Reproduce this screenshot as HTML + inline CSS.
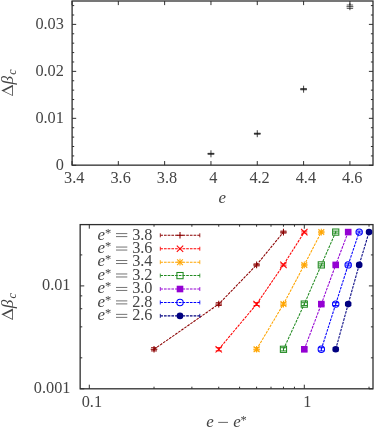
<!DOCTYPE html>
<html><head><meta charset="utf-8"><title>plot</title>
<style>
html,body{margin:0;padding:0;background:#fff;}
body{width:374px;height:428px;overflow:hidden;}
svg{display:block;will-change:transform;font-family:"Liberation Serif",serif;fill:#444444;}
svg line,svg path,svg rect,svg circle{shape-rendering:geometricPrecision;}
</style></head><body>
<svg width="374" height="428" viewBox="0 0 374 428">
<rect x="0" y="0" width="374" height="428" fill="#fff"/>
<rect x="72.1" y="1.0" width="300.9" height="164.15" fill="none" stroke="#2e2e2e" stroke-width="1.3"/>
<line x1="72.00" y1="165.15" x2="72.00" y2="161.05" stroke="#2e2e2e" stroke-width="1" />
<line x1="72.00" y1="1.00" x2="72.00" y2="5.10" stroke="#2e2e2e" stroke-width="1" />
<text x="74.30" y="183.00" text-anchor="middle" font-size="16.3" >3.4</text>
<line x1="118.32" y1="165.15" x2="118.32" y2="161.05" stroke="#2e2e2e" stroke-width="1" />
<line x1="118.32" y1="1.00" x2="118.32" y2="5.10" stroke="#2e2e2e" stroke-width="1" />
<text x="120.62" y="183.00" text-anchor="middle" font-size="16.3" >3.6</text>
<line x1="164.64" y1="165.15" x2="164.64" y2="161.05" stroke="#2e2e2e" stroke-width="1" />
<line x1="164.64" y1="1.00" x2="164.64" y2="5.10" stroke="#2e2e2e" stroke-width="1" />
<text x="166.94" y="183.00" text-anchor="middle" font-size="16.3" >3.8</text>
<line x1="210.96" y1="165.15" x2="210.96" y2="161.05" stroke="#2e2e2e" stroke-width="1" />
<line x1="210.96" y1="1.00" x2="210.96" y2="5.10" stroke="#2e2e2e" stroke-width="1" />
<text x="213.26" y="183.00" text-anchor="middle" font-size="16.3" >4</text>
<line x1="257.28" y1="165.15" x2="257.28" y2="161.05" stroke="#2e2e2e" stroke-width="1" />
<line x1="257.28" y1="1.00" x2="257.28" y2="5.10" stroke="#2e2e2e" stroke-width="1" />
<text x="259.58" y="183.00" text-anchor="middle" font-size="16.3" >4.2</text>
<line x1="303.60" y1="165.15" x2="303.60" y2="161.05" stroke="#2e2e2e" stroke-width="1" />
<line x1="303.60" y1="1.00" x2="303.60" y2="5.10" stroke="#2e2e2e" stroke-width="1" />
<text x="305.90" y="183.00" text-anchor="middle" font-size="16.3" >4.4</text>
<line x1="349.92" y1="165.15" x2="349.92" y2="161.05" stroke="#2e2e2e" stroke-width="1" />
<line x1="349.92" y1="1.00" x2="349.92" y2="5.10" stroke="#2e2e2e" stroke-width="1" />
<text x="352.22" y="183.00" text-anchor="middle" font-size="16.3" >4.6</text>
<line x1="72.10" y1="165.30" x2="76.20" y2="165.30" stroke="#2e2e2e" stroke-width="1" />
<line x1="373.00" y1="165.30" x2="368.90" y2="165.30" stroke="#2e2e2e" stroke-width="1" />
<text x="63.90" y="169.70" text-anchor="end" font-size="16.3" >0</text>
<line x1="72.10" y1="118.33" x2="76.20" y2="118.33" stroke="#2e2e2e" stroke-width="1" />
<line x1="373.00" y1="118.33" x2="368.90" y2="118.33" stroke="#2e2e2e" stroke-width="1" />
<text x="63.90" y="122.73" text-anchor="end" font-size="16.3" >0.01</text>
<line x1="72.10" y1="71.36" x2="76.20" y2="71.36" stroke="#2e2e2e" stroke-width="1" />
<line x1="373.00" y1="71.36" x2="368.90" y2="71.36" stroke="#2e2e2e" stroke-width="1" />
<text x="63.90" y="75.76" text-anchor="end" font-size="16.3" >0.02</text>
<line x1="72.10" y1="24.39" x2="76.20" y2="24.39" stroke="#2e2e2e" stroke-width="1" />
<line x1="373.00" y1="24.39" x2="368.90" y2="24.39" stroke="#2e2e2e" stroke-width="1" />
<text x="63.90" y="28.79" text-anchor="end" font-size="16.3" >0.03</text>
<line x1="72.10" y1="155.91" x2="74.20" y2="155.91" stroke="#2e2e2e" stroke-width="1" />
<line x1="373.00" y1="155.91" x2="370.90" y2="155.91" stroke="#2e2e2e" stroke-width="1" />
<line x1="72.10" y1="146.51" x2="74.20" y2="146.51" stroke="#2e2e2e" stroke-width="1" />
<line x1="373.00" y1="146.51" x2="370.90" y2="146.51" stroke="#2e2e2e" stroke-width="1" />
<line x1="72.10" y1="137.12" x2="74.20" y2="137.12" stroke="#2e2e2e" stroke-width="1" />
<line x1="373.00" y1="137.12" x2="370.90" y2="137.12" stroke="#2e2e2e" stroke-width="1" />
<line x1="72.10" y1="127.72" x2="74.20" y2="127.72" stroke="#2e2e2e" stroke-width="1" />
<line x1="373.00" y1="127.72" x2="370.90" y2="127.72" stroke="#2e2e2e" stroke-width="1" />
<line x1="72.10" y1="108.94" x2="74.20" y2="108.94" stroke="#2e2e2e" stroke-width="1" />
<line x1="373.00" y1="108.94" x2="370.90" y2="108.94" stroke="#2e2e2e" stroke-width="1" />
<line x1="72.10" y1="99.54" x2="74.20" y2="99.54" stroke="#2e2e2e" stroke-width="1" />
<line x1="373.00" y1="99.54" x2="370.90" y2="99.54" stroke="#2e2e2e" stroke-width="1" />
<line x1="72.10" y1="90.15" x2="74.20" y2="90.15" stroke="#2e2e2e" stroke-width="1" />
<line x1="373.00" y1="90.15" x2="370.90" y2="90.15" stroke="#2e2e2e" stroke-width="1" />
<line x1="72.10" y1="80.75" x2="74.20" y2="80.75" stroke="#2e2e2e" stroke-width="1" />
<line x1="373.00" y1="80.75" x2="370.90" y2="80.75" stroke="#2e2e2e" stroke-width="1" />
<line x1="72.10" y1="61.97" x2="74.20" y2="61.97" stroke="#2e2e2e" stroke-width="1" />
<line x1="373.00" y1="61.97" x2="370.90" y2="61.97" stroke="#2e2e2e" stroke-width="1" />
<line x1="72.10" y1="52.57" x2="74.20" y2="52.57" stroke="#2e2e2e" stroke-width="1" />
<line x1="373.00" y1="52.57" x2="370.90" y2="52.57" stroke="#2e2e2e" stroke-width="1" />
<line x1="72.10" y1="43.18" x2="74.20" y2="43.18" stroke="#2e2e2e" stroke-width="1" />
<line x1="373.00" y1="43.18" x2="370.90" y2="43.18" stroke="#2e2e2e" stroke-width="1" />
<line x1="72.10" y1="33.78" x2="74.20" y2="33.78" stroke="#2e2e2e" stroke-width="1" />
<line x1="373.00" y1="33.78" x2="370.90" y2="33.78" stroke="#2e2e2e" stroke-width="1" />
<line x1="72.10" y1="15.00" x2="74.20" y2="15.00" stroke="#2e2e2e" stroke-width="1" />
<line x1="373.00" y1="15.00" x2="370.90" y2="15.00" stroke="#2e2e2e" stroke-width="1" />
<line x1="72.10" y1="5.60" x2="74.20" y2="5.60" stroke="#2e2e2e" stroke-width="1" />
<line x1="373.00" y1="5.60" x2="370.90" y2="5.60" stroke="#2e2e2e" stroke-width="1" />
<line x1="207.56" y1="153.80" x2="214.36" y2="153.80" stroke="#111" stroke-width="0.8" />
<line x1="210.96" y1="150.30" x2="210.96" y2="157.30" stroke="#111" stroke-width="0.8" />
<line x1="207.76" y1="153.35" x2="214.16" y2="153.35" stroke="#111" stroke-width="0.7" />
<line x1="207.76" y1="154.25" x2="214.16" y2="154.25" stroke="#111" stroke-width="0.7" />
<line x1="253.88" y1="133.70" x2="260.68" y2="133.70" stroke="#111" stroke-width="0.8" />
<line x1="257.28" y1="130.20" x2="257.28" y2="137.20" stroke="#111" stroke-width="0.8" />
<line x1="254.08" y1="133.20" x2="260.48" y2="133.20" stroke="#111" stroke-width="0.7" />
<line x1="254.08" y1="134.20" x2="260.48" y2="134.20" stroke="#111" stroke-width="0.7" />
<line x1="300.20" y1="89.20" x2="307.00" y2="89.20" stroke="#111" stroke-width="0.8" />
<line x1="303.60" y1="85.70" x2="303.60" y2="92.70" stroke="#111" stroke-width="0.8" />
<line x1="300.40" y1="88.60" x2="306.80" y2="88.60" stroke="#111" stroke-width="0.7" />
<line x1="300.40" y1="89.80" x2="306.80" y2="89.80" stroke="#111" stroke-width="0.7" />
<line x1="346.52" y1="6.70" x2="353.32" y2="6.70" stroke="#111" stroke-width="0.8" />
<line x1="349.92" y1="3.20" x2="349.92" y2="10.20" stroke="#111" stroke-width="0.8" />
<line x1="346.72" y1="5.00" x2="353.12" y2="5.00" stroke="#111" stroke-width="0.7" />
<line x1="346.72" y1="8.40" x2="353.12" y2="8.40" stroke="#111" stroke-width="0.7" />
<text x="222.3" y="202.6" text-anchor="middle" font-size="16.900000000000002" font-style="italic">e</text>
<g transform="translate(12.9,96.1) rotate(-90)"><path d="M0,0 L5.65,-11.6 L11.3,0 Z M1.1,-0.8 L5.05,-8.9 L9.0,-0.8 Z" fill-rule="evenodd"/><text x="11.6" y="0" font-size="17.2" font-style="italic">β</text><text x="21.4" y="2.7" font-size="12" font-style="italic">c</text></g>
<rect x="80.15" y="224.6" width="292.85" height="164.20000000000002" fill="none" stroke="#2e2e2e" stroke-width="1.3"/>
<line x1="89.30" y1="388.80" x2="89.30" y2="384.70" stroke="#2e2e2e" stroke-width="1" />
<line x1="89.30" y1="224.60" x2="89.30" y2="228.70" stroke="#2e2e2e" stroke-width="1" />
<text x="91.90" y="406.70" text-anchor="middle" font-size="16.3" >0.1</text>
<line x1="304.30" y1="388.80" x2="304.30" y2="384.70" stroke="#2e2e2e" stroke-width="1" />
<line x1="304.30" y1="224.60" x2="304.30" y2="228.70" stroke="#2e2e2e" stroke-width="1" />
<text x="307.30" y="406.70" text-anchor="middle" font-size="16.3" >1</text>
<line x1="154.02" y1="388.80" x2="154.02" y2="386.70" stroke="#2e2e2e" stroke-width="1" />
<line x1="154.02" y1="224.60" x2="154.02" y2="226.70" stroke="#2e2e2e" stroke-width="1" />
<line x1="191.88" y1="388.80" x2="191.88" y2="386.70" stroke="#2e2e2e" stroke-width="1" />
<line x1="191.88" y1="224.60" x2="191.88" y2="226.70" stroke="#2e2e2e" stroke-width="1" />
<line x1="218.74" y1="388.80" x2="218.74" y2="386.70" stroke="#2e2e2e" stroke-width="1" />
<line x1="218.74" y1="224.60" x2="218.74" y2="226.70" stroke="#2e2e2e" stroke-width="1" />
<line x1="239.58" y1="388.80" x2="239.58" y2="386.70" stroke="#2e2e2e" stroke-width="1" />
<line x1="239.58" y1="224.60" x2="239.58" y2="226.70" stroke="#2e2e2e" stroke-width="1" />
<line x1="256.60" y1="388.80" x2="256.60" y2="386.70" stroke="#2e2e2e" stroke-width="1" />
<line x1="256.60" y1="224.60" x2="256.60" y2="226.70" stroke="#2e2e2e" stroke-width="1" />
<line x1="271.00" y1="388.80" x2="271.00" y2="386.70" stroke="#2e2e2e" stroke-width="1" />
<line x1="271.00" y1="224.60" x2="271.00" y2="226.70" stroke="#2e2e2e" stroke-width="1" />
<line x1="283.46" y1="388.80" x2="283.46" y2="386.70" stroke="#2e2e2e" stroke-width="1" />
<line x1="283.46" y1="224.60" x2="283.46" y2="226.70" stroke="#2e2e2e" stroke-width="1" />
<line x1="294.46" y1="388.80" x2="294.46" y2="386.70" stroke="#2e2e2e" stroke-width="1" />
<line x1="294.46" y1="224.60" x2="294.46" y2="226.70" stroke="#2e2e2e" stroke-width="1" />
<line x1="369.02" y1="388.80" x2="369.02" y2="386.70" stroke="#2e2e2e" stroke-width="1" />
<line x1="369.02" y1="224.60" x2="369.02" y2="226.70" stroke="#2e2e2e" stroke-width="1" />
<line x1="80.15" y1="388.80" x2="84.25" y2="388.80" stroke="#2e2e2e" stroke-width="1" />
<line x1="373.00" y1="388.80" x2="368.90" y2="388.80" stroke="#2e2e2e" stroke-width="1" />
<text x="70.50" y="393.10" text-anchor="end" font-size="16.3" >0.001</text>
<line x1="80.15" y1="285.90" x2="84.25" y2="285.90" stroke="#2e2e2e" stroke-width="1" />
<line x1="373.00" y1="285.90" x2="368.90" y2="285.90" stroke="#2e2e2e" stroke-width="1" />
<text x="70.50" y="290.20" text-anchor="end" font-size="16.3" >0.01</text>
<line x1="80.15" y1="357.82" x2="82.25" y2="357.82" stroke="#2e2e2e" stroke-width="1" />
<line x1="373.00" y1="357.82" x2="370.90" y2="357.82" stroke="#2e2e2e" stroke-width="1" />
<line x1="80.15" y1="326.85" x2="82.25" y2="326.85" stroke="#2e2e2e" stroke-width="1" />
<line x1="373.00" y1="326.85" x2="370.90" y2="326.85" stroke="#2e2e2e" stroke-width="1" />
<line x1="80.15" y1="308.73" x2="82.25" y2="308.73" stroke="#2e2e2e" stroke-width="1" />
<line x1="373.00" y1="308.73" x2="370.90" y2="308.73" stroke="#2e2e2e" stroke-width="1" />
<line x1="80.15" y1="295.87" x2="82.25" y2="295.87" stroke="#2e2e2e" stroke-width="1" />
<line x1="373.00" y1="295.87" x2="370.90" y2="295.87" stroke="#2e2e2e" stroke-width="1" />
<line x1="80.15" y1="254.92" x2="82.25" y2="254.92" stroke="#2e2e2e" stroke-width="1" />
<line x1="373.00" y1="254.92" x2="370.90" y2="254.92" stroke="#2e2e2e" stroke-width="1" />
<text x="206.3" y="426.5" font-size="16.900000000000002" font-style="italic">e</text>
<line x1="218.20" y1="422.40" x2="228.00" y2="422.40" stroke="#444444" stroke-width="0.8" />
<text x="233.3" y="426.5" font-size="16.900000000000002" font-style="italic">e</text>
<text x="243.7" y="424.3" font-size="12.5" text-anchor="middle">*</text>
<g transform="translate(12.9,319.9) rotate(-90)"><path d="M0,0 L5.65,-11.6 L11.3,0 Z M1.1,-0.8 L5.05,-8.9 L9.0,-0.8 Z" fill-rule="evenodd"/><text x="11.6" y="0" font-size="17.2" font-style="italic">β</text><text x="21.4" y="2.7" font-size="12" font-style="italic">c</text></g>
<path d="M154.02,349.30 L218.74,304.10 L256.60,264.90 L283.46,232.10" fill="none" stroke="#8b0000" stroke-width="1.05" stroke-dasharray="2.65 1.05"/>
<line x1="154.02" y1="347.70" x2="154.02" y2="350.90" stroke="#8b0000" stroke-width="1.05" />
<line x1="151.02" y1="347.70" x2="157.02" y2="347.70" stroke="#8b0000" stroke-width="0.9450000000000001" />
<line x1="151.02" y1="350.90" x2="157.02" y2="350.90" stroke="#8b0000" stroke-width="0.9450000000000001" />
<line x1="150.72" y1="349.30" x2="157.32" y2="349.30" stroke="#8b0000" stroke-width="1.05" />
<line x1="154.02" y1="346.00" x2="154.02" y2="352.60" stroke="#8b0000" stroke-width="1.05" />
<line x1="218.74" y1="302.70" x2="218.74" y2="305.50" stroke="#8b0000" stroke-width="1.05" />
<line x1="215.74" y1="302.70" x2="221.74" y2="302.70" stroke="#8b0000" stroke-width="0.9450000000000001" />
<line x1="215.74" y1="305.50" x2="221.74" y2="305.50" stroke="#8b0000" stroke-width="0.9450000000000001" />
<line x1="215.44" y1="304.10" x2="222.04" y2="304.10" stroke="#8b0000" stroke-width="1.05" />
<line x1="218.74" y1="300.80" x2="218.74" y2="307.40" stroke="#8b0000" stroke-width="1.05" />
<line x1="256.60" y1="263.90" x2="256.60" y2="265.90" stroke="#8b0000" stroke-width="1.05" />
<line x1="253.60" y1="263.90" x2="259.60" y2="263.90" stroke="#8b0000" stroke-width="0.9450000000000001" />
<line x1="253.60" y1="265.90" x2="259.60" y2="265.90" stroke="#8b0000" stroke-width="0.9450000000000001" />
<line x1="253.30" y1="264.90" x2="259.90" y2="264.90" stroke="#8b0000" stroke-width="1.05" />
<line x1="256.60" y1="261.60" x2="256.60" y2="268.20" stroke="#8b0000" stroke-width="1.05" />
<line x1="283.46" y1="231.10" x2="283.46" y2="233.10" stroke="#8b0000" stroke-width="1.05" />
<line x1="280.46" y1="231.10" x2="286.46" y2="231.10" stroke="#8b0000" stroke-width="0.9450000000000001" />
<line x1="280.46" y1="233.10" x2="286.46" y2="233.10" stroke="#8b0000" stroke-width="0.9450000000000001" />
<line x1="280.16" y1="232.10" x2="286.76" y2="232.10" stroke="#8b0000" stroke-width="1.05" />
<line x1="283.46" y1="228.80" x2="283.46" y2="235.40" stroke="#8b0000" stroke-width="1.05" />
<line x1="160.30" y1="235.30" x2="199.80" y2="235.30" stroke="#8b0000" stroke-width="1.05" stroke-dasharray="2.65 1.05"/>
<line x1="160.30" y1="233.30" x2="160.30" y2="237.30" stroke="#8b0000" stroke-width="0.8400000000000001" />
<line x1="199.80" y1="233.30" x2="199.80" y2="237.30" stroke="#8b0000" stroke-width="0.8400000000000001" />
<line x1="176.70" y1="235.30" x2="183.30" y2="235.30" stroke="#8b0000" stroke-width="1.05" />
<line x1="180.00" y1="232.00" x2="180.00" y2="238.60" stroke="#8b0000" stroke-width="1.05" />
<text x="97.6" y="239.50" font-size="16.900000000000002" font-style="italic">e</text>
<text x="108.2" y="236.50" font-size="12.5" text-anchor="middle">*</text>
<line x1="116.00" y1="233.60" x2="127.30" y2="233.60" stroke="#444444" stroke-width="0.75" />
<line x1="116.00" y1="236.60" x2="127.30" y2="236.60" stroke="#444444" stroke-width="0.75" />
<text x="152.5" y="239.50" font-size="16.3" text-anchor="end">3.8</text>
<path d="M218.74,349.30 L256.60,304.10 L283.46,264.90 L304.30,232.10" fill="none" stroke="#ff0000" stroke-width="1.05" stroke-dasharray="2.65 1.05"/>
<line x1="218.74" y1="347.70" x2="218.74" y2="350.90" stroke="#ff0000" stroke-width="1.05" />
<line x1="215.74" y1="347.70" x2="221.74" y2="347.70" stroke="#ff0000" stroke-width="0.9450000000000001" />
<line x1="215.74" y1="350.90" x2="221.74" y2="350.90" stroke="#ff0000" stroke-width="0.9450000000000001" />
<line x1="215.54" y1="346.10" x2="221.94" y2="352.50" stroke="#ff0000" stroke-width="1.05" />
<line x1="215.54" y1="352.50" x2="221.94" y2="346.10" stroke="#ff0000" stroke-width="1.05" />
<line x1="256.60" y1="302.70" x2="256.60" y2="305.50" stroke="#ff0000" stroke-width="1.05" />
<line x1="253.60" y1="302.70" x2="259.60" y2="302.70" stroke="#ff0000" stroke-width="0.9450000000000001" />
<line x1="253.60" y1="305.50" x2="259.60" y2="305.50" stroke="#ff0000" stroke-width="0.9450000000000001" />
<line x1="253.40" y1="300.90" x2="259.80" y2="307.30" stroke="#ff0000" stroke-width="1.05" />
<line x1="253.40" y1="307.30" x2="259.80" y2="300.90" stroke="#ff0000" stroke-width="1.05" />
<line x1="283.46" y1="263.90" x2="283.46" y2="265.90" stroke="#ff0000" stroke-width="1.05" />
<line x1="280.46" y1="263.90" x2="286.46" y2="263.90" stroke="#ff0000" stroke-width="0.9450000000000001" />
<line x1="280.46" y1="265.90" x2="286.46" y2="265.90" stroke="#ff0000" stroke-width="0.9450000000000001" />
<line x1="280.26" y1="261.70" x2="286.66" y2="268.10" stroke="#ff0000" stroke-width="1.05" />
<line x1="280.26" y1="268.10" x2="286.66" y2="261.70" stroke="#ff0000" stroke-width="1.05" />
<line x1="304.30" y1="231.10" x2="304.30" y2="233.10" stroke="#ff0000" stroke-width="1.05" />
<line x1="301.30" y1="231.10" x2="307.30" y2="231.10" stroke="#ff0000" stroke-width="0.9450000000000001" />
<line x1="301.30" y1="233.10" x2="307.30" y2="233.10" stroke="#ff0000" stroke-width="0.9450000000000001" />
<line x1="301.10" y1="228.90" x2="307.50" y2="235.30" stroke="#ff0000" stroke-width="1.05" />
<line x1="301.10" y1="235.30" x2="307.50" y2="228.90" stroke="#ff0000" stroke-width="1.05" />
<line x1="160.30" y1="248.73" x2="199.80" y2="248.73" stroke="#ff0000" stroke-width="1.05" stroke-dasharray="2.65 1.05"/>
<line x1="160.30" y1="246.73" x2="160.30" y2="250.73" stroke="#ff0000" stroke-width="0.8400000000000001" />
<line x1="199.80" y1="246.73" x2="199.80" y2="250.73" stroke="#ff0000" stroke-width="0.8400000000000001" />
<line x1="176.80" y1="245.53" x2="183.20" y2="251.93" stroke="#ff0000" stroke-width="1.05" />
<line x1="176.80" y1="251.93" x2="183.20" y2="245.53" stroke="#ff0000" stroke-width="1.05" />
<text x="97.6" y="252.96" font-size="16.900000000000002" font-style="italic">e</text>
<text x="108.2" y="249.96" font-size="12.5" text-anchor="middle">*</text>
<line x1="116.00" y1="247.06" x2="127.30" y2="247.06" stroke="#444444" stroke-width="0.75" />
<line x1="116.00" y1="250.06" x2="127.30" y2="250.06" stroke="#444444" stroke-width="0.75" />
<text x="152.5" y="252.96" font-size="16.3" text-anchor="end">3.6</text>
<path d="M256.60,349.30 L283.46,304.10 L304.30,264.90 L321.32,232.10" fill="none" stroke="#ffa500" stroke-width="1.05" stroke-dasharray="2.65 1.05"/>
<line x1="256.60" y1="347.70" x2="256.60" y2="350.90" stroke="#ffa500" stroke-width="1.05" />
<line x1="253.60" y1="347.70" x2="259.60" y2="347.70" stroke="#ffa500" stroke-width="0.9450000000000001" />
<line x1="253.60" y1="350.90" x2="259.60" y2="350.90" stroke="#ffa500" stroke-width="0.9450000000000001" />
<line x1="253.30" y1="349.30" x2="259.90" y2="349.30" stroke="#ffa500" stroke-width="1.05" />
<line x1="256.60" y1="346.00" x2="256.60" y2="352.60" stroke="#ffa500" stroke-width="1.05" />
<line x1="253.70" y1="346.40" x2="259.50" y2="352.20" stroke="#ffa500" stroke-width="1.05" />
<line x1="253.70" y1="352.20" x2="259.50" y2="346.40" stroke="#ffa500" stroke-width="1.05" />
<line x1="283.46" y1="302.70" x2="283.46" y2="305.50" stroke="#ffa500" stroke-width="1.05" />
<line x1="280.46" y1="302.70" x2="286.46" y2="302.70" stroke="#ffa500" stroke-width="0.9450000000000001" />
<line x1="280.46" y1="305.50" x2="286.46" y2="305.50" stroke="#ffa500" stroke-width="0.9450000000000001" />
<line x1="280.16" y1="304.10" x2="286.76" y2="304.10" stroke="#ffa500" stroke-width="1.05" />
<line x1="283.46" y1="300.80" x2="283.46" y2="307.40" stroke="#ffa500" stroke-width="1.05" />
<line x1="280.56" y1="301.20" x2="286.36" y2="307.00" stroke="#ffa500" stroke-width="1.05" />
<line x1="280.56" y1="307.00" x2="286.36" y2="301.20" stroke="#ffa500" stroke-width="1.05" />
<line x1="304.30" y1="263.90" x2="304.30" y2="265.90" stroke="#ffa500" stroke-width="1.05" />
<line x1="301.30" y1="263.90" x2="307.30" y2="263.90" stroke="#ffa500" stroke-width="0.9450000000000001" />
<line x1="301.30" y1="265.90" x2="307.30" y2="265.90" stroke="#ffa500" stroke-width="0.9450000000000001" />
<line x1="301.00" y1="264.90" x2="307.60" y2="264.90" stroke="#ffa500" stroke-width="1.05" />
<line x1="304.30" y1="261.60" x2="304.30" y2="268.20" stroke="#ffa500" stroke-width="1.05" />
<line x1="301.40" y1="262.00" x2="307.20" y2="267.80" stroke="#ffa500" stroke-width="1.05" />
<line x1="301.40" y1="267.80" x2="307.20" y2="262.00" stroke="#ffa500" stroke-width="1.05" />
<line x1="321.32" y1="231.10" x2="321.32" y2="233.10" stroke="#ffa500" stroke-width="1.05" />
<line x1="318.32" y1="231.10" x2="324.32" y2="231.10" stroke="#ffa500" stroke-width="0.9450000000000001" />
<line x1="318.32" y1="233.10" x2="324.32" y2="233.10" stroke="#ffa500" stroke-width="0.9450000000000001" />
<line x1="318.02" y1="232.10" x2="324.62" y2="232.10" stroke="#ffa500" stroke-width="1.05" />
<line x1="321.32" y1="228.80" x2="321.32" y2="235.40" stroke="#ffa500" stroke-width="1.05" />
<line x1="318.42" y1="229.20" x2="324.22" y2="235.00" stroke="#ffa500" stroke-width="1.05" />
<line x1="318.42" y1="235.00" x2="324.22" y2="229.20" stroke="#ffa500" stroke-width="1.05" />
<line x1="160.30" y1="262.16" x2="199.80" y2="262.16" stroke="#ffa500" stroke-width="1.05" stroke-dasharray="2.65 1.05"/>
<line x1="160.30" y1="260.16" x2="160.30" y2="264.16" stroke="#ffa500" stroke-width="0.8400000000000001" />
<line x1="199.80" y1="260.16" x2="199.80" y2="264.16" stroke="#ffa500" stroke-width="0.8400000000000001" />
<line x1="176.70" y1="262.16" x2="183.30" y2="262.16" stroke="#ffa500" stroke-width="1.05" />
<line x1="180.00" y1="258.86" x2="180.00" y2="265.46" stroke="#ffa500" stroke-width="1.05" />
<line x1="177.10" y1="259.26" x2="182.90" y2="265.06" stroke="#ffa500" stroke-width="1.05" />
<line x1="177.10" y1="265.06" x2="182.90" y2="259.26" stroke="#ffa500" stroke-width="1.05" />
<text x="97.6" y="266.42" font-size="16.900000000000002" font-style="italic">e</text>
<text x="108.2" y="263.42" font-size="12.5" text-anchor="middle">*</text>
<line x1="116.00" y1="260.52" x2="127.30" y2="260.52" stroke="#444444" stroke-width="0.75" />
<line x1="116.00" y1="263.52" x2="127.30" y2="263.52" stroke="#444444" stroke-width="0.75" />
<text x="152.5" y="266.42" font-size="16.3" text-anchor="end">3.4</text>
<path d="M283.46,349.30 L304.30,304.10 L321.32,264.90 L335.72,232.10" fill="none" stroke="#228b22" stroke-width="1.05" stroke-dasharray="2.65 1.05"/>
<line x1="283.46" y1="347.70" x2="283.46" y2="350.90" stroke="#228b22" stroke-width="1.05" />
<line x1="280.46" y1="347.70" x2="286.46" y2="347.70" stroke="#228b22" stroke-width="0.9450000000000001" />
<line x1="280.46" y1="350.90" x2="286.46" y2="350.90" stroke="#228b22" stroke-width="0.9450000000000001" />
<rect x="280.36" y="346.20" width="6.2" height="6.2" fill="none" stroke="#228b22" stroke-width="1.05"/>
<line x1="304.30" y1="302.70" x2="304.30" y2="305.50" stroke="#228b22" stroke-width="1.05" />
<line x1="301.30" y1="302.70" x2="307.30" y2="302.70" stroke="#228b22" stroke-width="0.9450000000000001" />
<line x1="301.30" y1="305.50" x2="307.30" y2="305.50" stroke="#228b22" stroke-width="0.9450000000000001" />
<rect x="301.20" y="301.00" width="6.2" height="6.2" fill="none" stroke="#228b22" stroke-width="1.05"/>
<line x1="321.32" y1="263.90" x2="321.32" y2="265.90" stroke="#228b22" stroke-width="1.05" />
<line x1="318.32" y1="263.90" x2="324.32" y2="263.90" stroke="#228b22" stroke-width="0.9450000000000001" />
<line x1="318.32" y1="265.90" x2="324.32" y2="265.90" stroke="#228b22" stroke-width="0.9450000000000001" />
<rect x="318.22" y="261.80" width="6.2" height="6.2" fill="none" stroke="#228b22" stroke-width="1.05"/>
<line x1="335.72" y1="231.10" x2="335.72" y2="233.10" stroke="#228b22" stroke-width="1.05" />
<line x1="332.72" y1="231.10" x2="338.72" y2="231.10" stroke="#228b22" stroke-width="0.9450000000000001" />
<line x1="332.72" y1="233.10" x2="338.72" y2="233.10" stroke="#228b22" stroke-width="0.9450000000000001" />
<rect x="332.62" y="229.00" width="6.2" height="6.2" fill="none" stroke="#228b22" stroke-width="1.05"/>
<line x1="160.30" y1="275.59" x2="199.80" y2="275.59" stroke="#228b22" stroke-width="1.05" stroke-dasharray="2.65 1.05"/>
<line x1="160.30" y1="273.59" x2="160.30" y2="277.59" stroke="#228b22" stroke-width="0.8400000000000001" />
<line x1="199.80" y1="273.59" x2="199.80" y2="277.59" stroke="#228b22" stroke-width="0.8400000000000001" />
<rect x="176.90" y="272.49" width="6.2" height="6.2" fill="none" stroke="#228b22" stroke-width="1.05"/>
<text x="97.6" y="279.88" font-size="16.900000000000002" font-style="italic">e</text>
<text x="108.2" y="276.88" font-size="12.5" text-anchor="middle">*</text>
<line x1="116.00" y1="273.98" x2="127.30" y2="273.98" stroke="#444444" stroke-width="0.75" />
<line x1="116.00" y1="276.98" x2="127.30" y2="276.98" stroke="#444444" stroke-width="0.75" />
<text x="152.5" y="279.88" font-size="16.3" text-anchor="end">3.2</text>
<path d="M304.30,349.30 L321.32,304.10 L335.72,264.90 L348.19,232.10" fill="none" stroke="#9400d3" stroke-width="1.05" stroke-dasharray="2.65 1.05"/>
<line x1="304.30" y1="347.70" x2="304.30" y2="350.90" stroke="#9400d3" stroke-width="1.05" />
<line x1="301.30" y1="347.70" x2="307.30" y2="347.70" stroke="#9400d3" stroke-width="0.9450000000000001" />
<line x1="301.30" y1="350.90" x2="307.30" y2="350.90" stroke="#9400d3" stroke-width="0.9450000000000001" />
<rect x="301.00" y="346.00" width="6.6" height="6.6" fill="#9400d3"/>
<line x1="321.32" y1="302.70" x2="321.32" y2="305.50" stroke="#9400d3" stroke-width="1.05" />
<line x1="318.32" y1="302.70" x2="324.32" y2="302.70" stroke="#9400d3" stroke-width="0.9450000000000001" />
<line x1="318.32" y1="305.50" x2="324.32" y2="305.50" stroke="#9400d3" stroke-width="0.9450000000000001" />
<rect x="318.02" y="300.80" width="6.6" height="6.6" fill="#9400d3"/>
<line x1="335.72" y1="263.90" x2="335.72" y2="265.90" stroke="#9400d3" stroke-width="1.05" />
<line x1="332.72" y1="263.90" x2="338.72" y2="263.90" stroke="#9400d3" stroke-width="0.9450000000000001" />
<line x1="332.72" y1="265.90" x2="338.72" y2="265.90" stroke="#9400d3" stroke-width="0.9450000000000001" />
<rect x="332.42" y="261.60" width="6.6" height="6.6" fill="#9400d3"/>
<line x1="348.19" y1="231.10" x2="348.19" y2="233.10" stroke="#9400d3" stroke-width="1.05" />
<line x1="345.19" y1="231.10" x2="351.19" y2="231.10" stroke="#9400d3" stroke-width="0.9450000000000001" />
<line x1="345.19" y1="233.10" x2="351.19" y2="233.10" stroke="#9400d3" stroke-width="0.9450000000000001" />
<rect x="344.89" y="228.80" width="6.6" height="6.6" fill="#9400d3"/>
<line x1="160.30" y1="289.02" x2="199.80" y2="289.02" stroke="#9400d3" stroke-width="1.05" stroke-dasharray="2.65 1.05"/>
<line x1="160.30" y1="287.02" x2="160.30" y2="291.02" stroke="#9400d3" stroke-width="0.8400000000000001" />
<line x1="199.80" y1="287.02" x2="199.80" y2="291.02" stroke="#9400d3" stroke-width="0.8400000000000001" />
<rect x="176.70" y="285.72" width="6.6" height="6.6" fill="#9400d3"/>
<text x="97.6" y="293.34" font-size="16.900000000000002" font-style="italic">e</text>
<text x="108.2" y="290.34" font-size="12.5" text-anchor="middle">*</text>
<line x1="116.00" y1="287.44" x2="127.30" y2="287.44" stroke="#444444" stroke-width="0.75" />
<line x1="116.00" y1="290.44" x2="127.30" y2="290.44" stroke="#444444" stroke-width="0.75" />
<text x="152.5" y="293.34" font-size="16.3" text-anchor="end">3.0</text>
<path d="M321.32,349.30 L335.72,304.10 L348.19,264.90 L359.18,232.10" fill="none" stroke="#0000ff" stroke-width="1.05" stroke-dasharray="2.65 1.05"/>
<line x1="321.32" y1="347.70" x2="321.32" y2="350.90" stroke="#0000ff" stroke-width="1.05" />
<line x1="318.32" y1="347.70" x2="324.32" y2="347.70" stroke="#0000ff" stroke-width="0.9450000000000001" />
<line x1="318.32" y1="350.90" x2="324.32" y2="350.90" stroke="#0000ff" stroke-width="0.9450000000000001" />
<circle cx="321.32" cy="349.30" r="3.2" fill="none" stroke="#0000ff" stroke-width="1.05"/>
<line x1="335.72" y1="302.70" x2="335.72" y2="305.50" stroke="#0000ff" stroke-width="1.05" />
<line x1="332.72" y1="302.70" x2="338.72" y2="302.70" stroke="#0000ff" stroke-width="0.9450000000000001" />
<line x1="332.72" y1="305.50" x2="338.72" y2="305.50" stroke="#0000ff" stroke-width="0.9450000000000001" />
<circle cx="335.72" cy="304.10" r="3.2" fill="none" stroke="#0000ff" stroke-width="1.05"/>
<line x1="348.19" y1="263.90" x2="348.19" y2="265.90" stroke="#0000ff" stroke-width="1.05" />
<line x1="345.19" y1="263.90" x2="351.19" y2="263.90" stroke="#0000ff" stroke-width="0.9450000000000001" />
<line x1="345.19" y1="265.90" x2="351.19" y2="265.90" stroke="#0000ff" stroke-width="0.9450000000000001" />
<circle cx="348.19" cy="264.90" r="3.2" fill="none" stroke="#0000ff" stroke-width="1.05"/>
<line x1="359.18" y1="231.10" x2="359.18" y2="233.10" stroke="#0000ff" stroke-width="1.05" />
<line x1="356.18" y1="231.10" x2="362.18" y2="231.10" stroke="#0000ff" stroke-width="0.9450000000000001" />
<line x1="356.18" y1="233.10" x2="362.18" y2="233.10" stroke="#0000ff" stroke-width="0.9450000000000001" />
<circle cx="359.18" cy="232.10" r="3.2" fill="none" stroke="#0000ff" stroke-width="1.05"/>
<line x1="160.30" y1="302.45" x2="199.80" y2="302.45" stroke="#0000ff" stroke-width="1.05" stroke-dasharray="2.65 1.05"/>
<line x1="160.30" y1="300.45" x2="160.30" y2="304.45" stroke="#0000ff" stroke-width="0.8400000000000001" />
<line x1="199.80" y1="300.45" x2="199.80" y2="304.45" stroke="#0000ff" stroke-width="0.8400000000000001" />
<circle cx="180.00" cy="302.45" r="3.2" fill="none" stroke="#0000ff" stroke-width="1.05"/>
<text x="97.6" y="306.80" font-size="16.900000000000002" font-style="italic">e</text>
<text x="108.2" y="303.80" font-size="12.5" text-anchor="middle">*</text>
<line x1="116.00" y1="300.90" x2="127.30" y2="300.90" stroke="#444444" stroke-width="0.75" />
<line x1="116.00" y1="303.90" x2="127.30" y2="303.90" stroke="#444444" stroke-width="0.75" />
<text x="152.5" y="306.80" font-size="16.3" text-anchor="end">2.8</text>
<path d="M335.72,349.30 L348.19,304.10 L359.18,264.90 L369.02,232.10" fill="none" stroke="#000080" stroke-width="1.05" stroke-dasharray="2.65 1.05"/>
<line x1="335.72" y1="347.70" x2="335.72" y2="350.90" stroke="#000080" stroke-width="1.05" />
<line x1="332.72" y1="347.70" x2="338.72" y2="347.70" stroke="#000080" stroke-width="0.9450000000000001" />
<line x1="332.72" y1="350.90" x2="338.72" y2="350.90" stroke="#000080" stroke-width="0.9450000000000001" />
<circle cx="335.72" cy="349.30" r="3.3" fill="#000080"/>
<line x1="348.19" y1="302.70" x2="348.19" y2="305.50" stroke="#000080" stroke-width="1.05" />
<line x1="345.19" y1="302.70" x2="351.19" y2="302.70" stroke="#000080" stroke-width="0.9450000000000001" />
<line x1="345.19" y1="305.50" x2="351.19" y2="305.50" stroke="#000080" stroke-width="0.9450000000000001" />
<circle cx="348.19" cy="304.10" r="3.3" fill="#000080"/>
<line x1="359.18" y1="263.90" x2="359.18" y2="265.90" stroke="#000080" stroke-width="1.05" />
<line x1="356.18" y1="263.90" x2="362.18" y2="263.90" stroke="#000080" stroke-width="0.9450000000000001" />
<line x1="356.18" y1="265.90" x2="362.18" y2="265.90" stroke="#000080" stroke-width="0.9450000000000001" />
<circle cx="359.18" cy="264.90" r="3.3" fill="#000080"/>
<line x1="369.02" y1="231.10" x2="369.02" y2="233.10" stroke="#000080" stroke-width="1.05" />
<line x1="366.02" y1="231.10" x2="372.02" y2="231.10" stroke="#000080" stroke-width="0.9450000000000001" />
<line x1="366.02" y1="233.10" x2="372.02" y2="233.10" stroke="#000080" stroke-width="0.9450000000000001" />
<circle cx="369.02" cy="232.10" r="3.3" fill="#000080"/>
<line x1="160.30" y1="315.88" x2="199.80" y2="315.88" stroke="#000080" stroke-width="1.05" stroke-dasharray="2.65 1.05"/>
<line x1="160.30" y1="313.88" x2="160.30" y2="317.88" stroke="#000080" stroke-width="0.8400000000000001" />
<line x1="199.80" y1="313.88" x2="199.80" y2="317.88" stroke="#000080" stroke-width="0.8400000000000001" />
<circle cx="180.00" cy="315.88" r="3.3" fill="#000080"/>
<text x="97.6" y="320.26" font-size="16.900000000000002" font-style="italic">e</text>
<text x="108.2" y="317.26" font-size="12.5" text-anchor="middle">*</text>
<line x1="116.00" y1="314.36" x2="127.30" y2="314.36" stroke="#444444" stroke-width="0.75" />
<line x1="116.00" y1="317.36" x2="127.30" y2="317.36" stroke="#444444" stroke-width="0.75" />
<text x="152.5" y="320.26" font-size="16.3" text-anchor="end">2.6</text>
</svg>
</body></html>
